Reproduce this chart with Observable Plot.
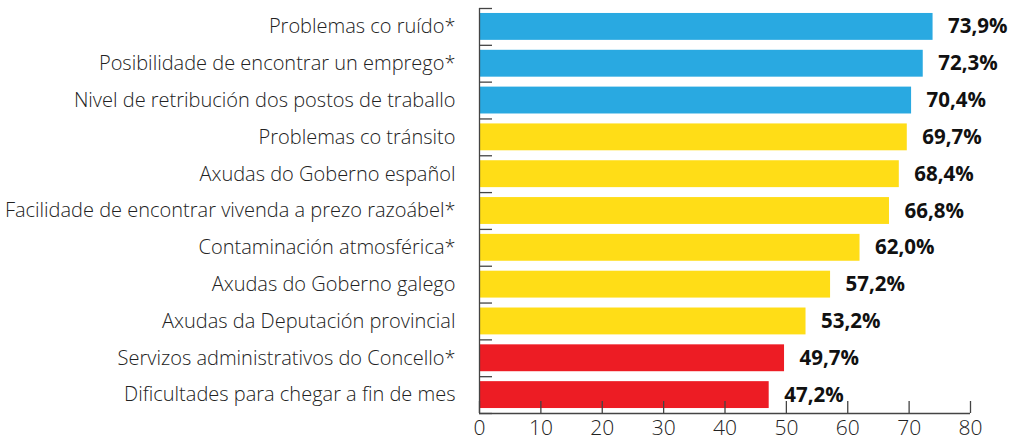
<!DOCTYPE html>
<html>
<head>
<meta charset="utf-8">
<script src="https://cdn.jsdelivr.net/npm/d3@7"></script>
<script src="https://cdn.jsdelivr.net/npm/@observablehq/plot@0.6"></script>
<style>
  html, body { margin: 0; padding: 0; background: #fff; }
  #chart svg { display: block; }
</style>
</head>
<body>
<div id="chart"></div>
<script>
const categories = [
  "Problemas co ruído*",
  "Posibilidade de encontrar un emprego*",
  "Nivel de retribución dos postos de traballo",
  "Problemas co tránsito",
  "Axudas do Goberno español",
  "Facilidade de encontrar vivenda a prezo razoábel*",
  "Contaminación atmosférica*",
  "Axudas do Goberno galego",
  "Axudas da Deputación provincial",
  "Servizos administrativos do Concello*",
  "Dificultades para chegar a fin de mes"
];
const values = [73.9, 72.3, 70.4, 69.7, 68.4, 66.8, 62.0, 57.2, 53.2, 49.7, 47.2];
const groups = ["A", "A", "A", "B", "B", "B", "B", "B", "B", "C", "C"];
const xTicks = [0, 10, 20, 30, 40, 50, 60, 70, 80];

const groupColors = {A: "#29a9e1", B: "#ffdd17", C: "#ed1c24"};

const data = categories.map((c, i) => ({i, category: c, value: values[i], group: groups[i]}));

const width = 1021, height = 443;
const marginTop = 8, marginBottom = 30, marginLeft = 479, marginRight = 51;
const n = categories.length;
const stepPx = (height - marginTop - marginBottom) / n;
const half = 0.365;          // half bar thickness, in band units
const tickLenY = 12 / stepPx; // bottom tick length in band units
const tickLenX = 13 * 80 / (width - marginLeft - marginRight);
const font = "'Open Sans', Roboto, sans-serif";

const chart = Plot.plot({
  width, height, marginTop, marginBottom, marginLeft, marginRight,
  style: {fontFamily: font, color: "#222", background: "#fff", overflow: "visible"},
  x: {domain: [0, 80], label: null},
  y: {domain: [-0.5, n - 0.5], reverse: true, label: null},
  color: {type: "categorical", domain: Object.keys(groupColors), range: Object.values(groupColors)},
  marks: [
    Plot.rectX(data, {x1: 0, x2: "value", y1: d => d.i - half, y2: d => d.i + half, fill: "group"}),
    Plot.ruleX([0], {stroke: "#444", strokeWidth: 1.3}),
    Plot.ruleY([n - 0.5], {stroke: "#444", strokeWidth: 1.3}),
    Plot.ruleY(d3.range(n + 1).map(k => k - 0.5), {x1: 0, x2: tickLenX, stroke: "#444", strokeWidth: 1.3}),
    Plot.ruleX(xTicks, {x: d => d, y1: n - 0.5, y2: n - 0.5 - tickLenY, stroke: "#444", strokeWidth: 1.3}),
    Plot.axisY(d3.range(n), {
      tickFormat: k => categories[k], tickSize: 0, tickPadding: 24, label: null,
      fontSize: 20, fontWeight: 300, fill: "#222"
    }),
    Plot.axisX(xTicks, {
      tickSize: 0, tickPadding: 7, label: null, fontSize: 21, fontWeight: 300, fill: "#222"
    }),
    Plot.text(data, {
      x: "value", y: "i", dx: 15, textAnchor: "start",
      text: d => d.value.toFixed(1).replace(".", ",") + "%",
      fontSize: 20.5, fontWeight: "bold", fill: "#111"
    })
  ]
});
document.getElementById("chart").appendChild(chart);
</script>
</body>
</html>
